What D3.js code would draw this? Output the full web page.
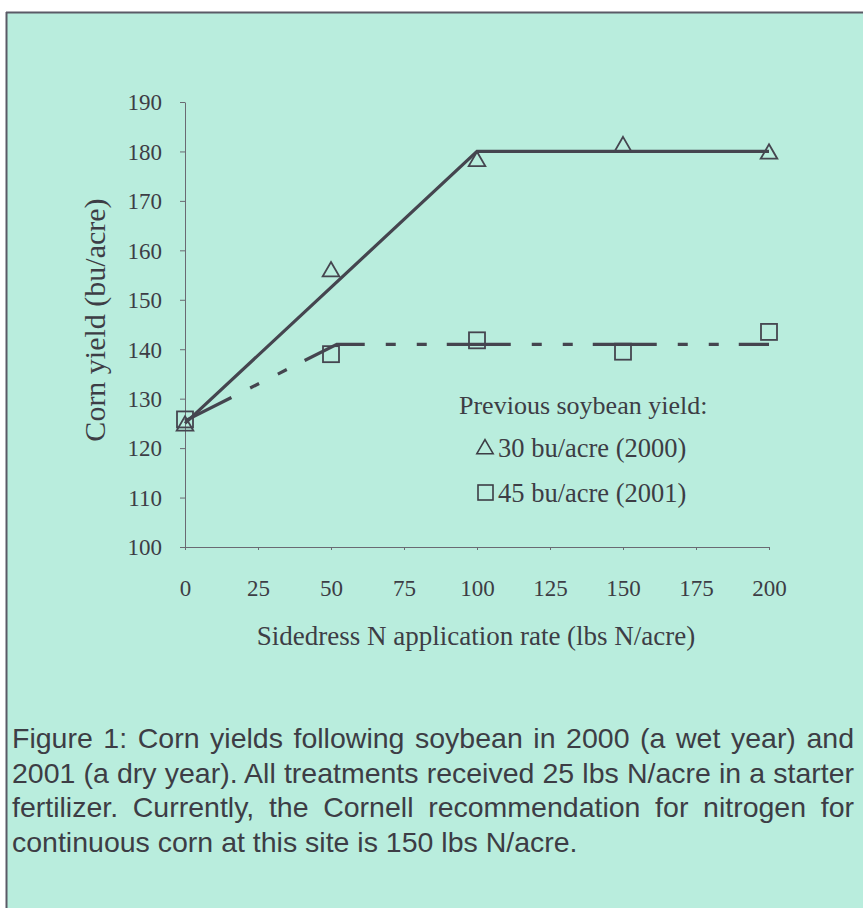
<!DOCTYPE html>
<html>
<head>
<meta charset="utf-8">
<script src="https://cdn.jsdelivr.net/npm/d3@7"></script>
<style>
  html, body { margin: 0; padding: 0; background: #ffffff; }
  svg { display: block; }
</style>
</head>
<body>
<svg id="chart" width="863" height="908"></svg>
<script>
// ---- data ----
const nRates = [0, 50, 100, 150, 200];
const yield2000 = [124.5, 155.7, 178, 181, 179.5];
const yield2001 = [125.8, 139, 141.8, 139.5, 143.5];
const fitX2000 = [0, 100, 200];
const fitY2000 = [125, 180, 180];
const fitX2001 = [0, 52, 200];
const fitY2001 = [125.5, 141, 141];
const xTicks = [0, 25, 50, 75, 100, 125, 150, 175, 200];
const yTicks = [100, 110, 120, 130, 140, 150, 160, 170, 180, 190];
const legendTitle = "Previous soybean yield:";
const legendLabels = ["30 bu/acre (2000)", "45 bu/acre (2001)"];
const xTitle = "Sidedress N application rate (lbs N/acre)";
const yTitle = "Corn yield (bu/acre)";
const captionLines = [
  "Figure 1: Corn yields following soybean in 2000 (a wet year) and",
  "2001 (a dry year). All treatments received 25 lbs N/acre in a starter",
  "fertilizer. Currently, the Cornell recommendation for nitrogen for",
  "continuous corn at this site is 150 lbs N/acre."
];

// ---- styles ----
const bg = "#b9eddd";
const ink = "#45454f";
const textCol = "#3d3d45";
const serif = "'Liberation Serif', 'Times New Roman', serif";
const sans = "'Liberation Sans', Arial, sans-serif";

const svg = d3.select("#chart");

// background panel with border
svg.append("rect").attr("x", 0).attr("y", 0).attr("width", 863).attr("height", 908).attr("fill", "#ffffff");
svg.append("rect").attr("x", 6).attr("y", 12).attr("width", 857).attr("height", 896).attr("fill", bg);
svg.append("line").attr("x1", 6).attr("x2", 863).attr("y1", 12.5).attr("y2", 12.5)
  .attr("stroke", "#5a5a66").attr("stroke-width", 2);
svg.append("line").attr("x1", 6.5).attr("x2", 6.5).attr("y1", 12).attr("y2", 908)
  .attr("stroke", "#5a5a66").attr("stroke-width", 2);

// ---- scales ----
const x = d3.scaleLinear().domain([0, 200]).range([185, 769]);
const y = d3.scaleLinear().domain([100, 190]).range([547, 102]);

// ---- axes ----
const gy = svg.append("g").attr("transform", "translate(185,0)")
  .call(d3.axisLeft(y).tickValues(yTicks).tickSizeInner(5).tickSizeOuter(0).tickPadding(18));
const gx = svg.append("g").attr("transform", "translate(0,547)")
  .call(d3.axisBottom(x).tickValues(xTicks).tickSizeInner(3).tickSizeOuter(0).tickPadding(30));
[gy, gx].forEach(g => {
  g.select(".domain").attr("stroke", "#6a6a72").attr("stroke-width", 1);
  g.selectAll(".tick line").attr("stroke", "#6a6a72").attr("stroke-width", 1);
  g.selectAll(".tick text").attr("fill", textCol).attr("font-family", serif).attr("font-size", 23);
});
gy.selectAll(".tick text").attr("dy", "0.34em");

// axis titles
svg.append("text").attr("x", 476).attr("y", 645).attr("text-anchor", "middle")
  .attr("font-family", serif).attr("font-size", 27).attr("fill", textCol).text(xTitle);
svg.append("text").attr("transform", "translate(105,320) rotate(-90)").attr("text-anchor", "middle")
  .attr("font-family", serif).attr("font-size", 30).attr("fill", textCol).text(yTitle);

// ---- fitted lines ----
const line = d3.line().x(d => x(d[0])).y(d => y(d[1]));
const fit2000 = fitX2000.map((v, i) => [v, fitY2000[i]]);
const fit2001 = fitX2001.map((v, i) => [v, fitY2001[i]]);

svg.append("path").attr("d", line(fit2001)).attr("fill", "none").attr("stroke", ink)
  .attr("stroke-width", 3.2).attr("stroke-dasharray", "64,21,10,21,10,20").attr("stroke-dashoffset", 12);
svg.append("path").attr("d", line(fit2000)).attr("fill", "none").attr("stroke", ink)
  .attr("stroke-width", 3.2).attr("stroke-linejoin", "miter");

// ---- markers ----
const tri = d3.symbol().type(d3.symbolTriangle).size(120);
svg.append("g").selectAll("path").data(nRates).join("path")
  .attr("d", tri)
  .attr("transform", (d, i) => `translate(${x(d)},${y(yield2000[i])})`)
  .attr("fill", "none").attr("stroke", ink).attr("stroke-width", 1.8);
const sq = 16;
svg.append("g").selectAll("rect").data(nRates).join("rect")
  .attr("x", d => x(d) - sq / 2)
  .attr("y", (d, i) => y(yield2001[i]) - sq / 2)
  .attr("width", sq).attr("height", sq)
  .attr("fill", "none").attr("stroke", ink).attr("stroke-width", 1.8);

// ---- legend ----
svg.append("text").attr("x", 459).attr("y", 414).attr("font-family", serif).attr("font-size", 26)
  .attr("fill", textCol).text(legendTitle);
const legY = [457, 502];
svg.append("path").attr("d", d3.symbol().type(d3.symbolTriangle).size(115)())
  .attr("transform", `translate(485,${legY[0] - 8})`)
  .attr("fill", "none").attr("stroke", textCol).attr("stroke-width", 1.6);
svg.append("rect").attr("x", 478).attr("y", legY[1] - 17).attr("width", 15).attr("height", 15)
  .attr("fill", "none").attr("stroke", textCol).attr("stroke-width", 1.6);
legendLabels.forEach((t, i) => {
  svg.append("text").attr("x", 498).attr("y", legY[i]).attr("font-family", serif).attr("font-size", 26.5)
    .attr("fill", textCol).text(t);
});

// ---- caption (justified) ----
const capX = 12, capW = 842, capBase = 748, capStep = 34.5;
captionLines.forEach((t, i) => {
  const tx = svg.append("text").attr("x", capX).attr("y", capBase + i * capStep)
    .attr("font-family", sans).attr("font-size", 28.5).attr("fill", textCol).text(t);
  if (i < captionLines.length - 1) {
    const w = tx.node().getComputedTextLength();
    const spaces = (t.match(/ /g) || []).length;
    if (w < capW && spaces > 0) {
      tx.attr("word-spacing", (capW - w) / spaces);
    } else {
      tx.attr("letter-spacing", (capW - w) / t.length);
    }
  }
});
</script>
</body>
</html>
